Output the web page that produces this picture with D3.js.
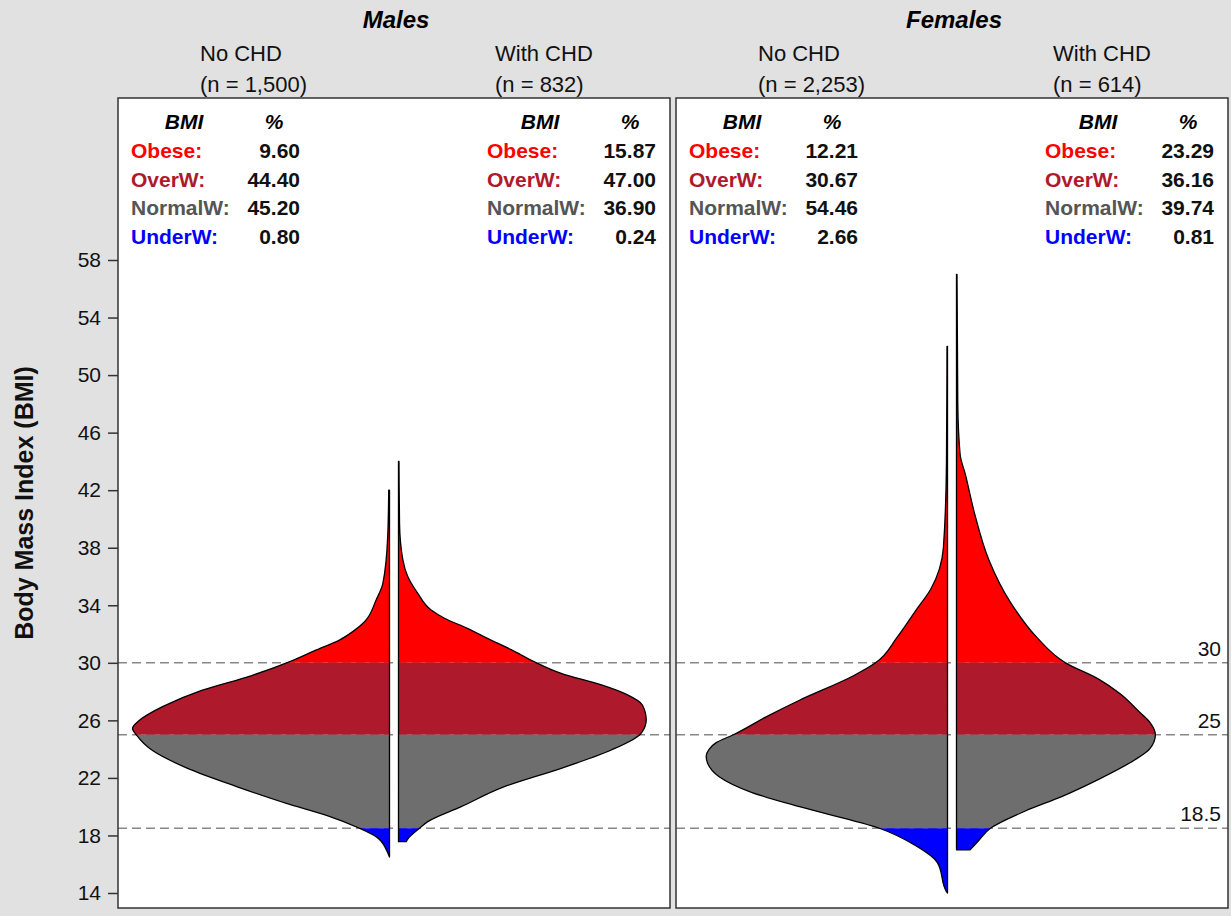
<!DOCTYPE html>
<html>
<head>
<meta charset="utf-8">
<script src="https://cdn.jsdelivr.net/npm/d3@7"></script>
<style>
  body { margin: 0; background: #e1e1e1; }
  text { font-family: Arial, "Liberation Sans", sans-serif; }
</style>
</head>
<body>
<svg width="1231" height="916"></svg>
<script>
// ---- data ----
var sexes = ["Males", "Females"];
var groups = ["No CHD", "With CHD"];
var counts = [[1500, 832], [2253, 614]];

var bandNames = ["Obese:", "OverW:", "NormalW:", "UnderW:"];
var bandCuts = [30, 25, 18.5];          // reference lines
var yTicks = [14, 18, 22, 26, 30, 34, 38, 42, 46, 50, 54, 58];

var maleNoPct  = [9.60, 44.40, 45.20, 0.80];
var maleYesPct = [15.87, 47.00, 36.90, 0.24];
var femNoPct   = [12.21, 30.67, 54.46, 2.66];
var femYesPct  = [23.29, 36.16, 39.74, 0.81];

// density (% per BMI unit) at BMI values
var maleNoBmi  = [16.5, 17.0, 17.9, 18.5, 19.4, 20.23, 21.4, 22.7, 23.9, 24.97, 25.44, 26.0, 26.95, 28.1, 29.1, 30.15, 30.9, 31.58, 32.17, 32.86, 34.37, 35.5, 38.77, 42.0];
var maleNoDens = [0, 0.12, 0.51, 1.17, 2.45, 4.01, 5.95, 7.90, 9.22, 9.84, 10.0, 9.73, 8.83, 7.28, 5.39, 3.78, 2.84, 1.95, 1.43, 0.97, 0.52, 0.26, 0.07, 0.03];

var maleYesBmi  = [17.57, 17.75, 18.5, 18.96, 20.0, 21.39, 22.67, 23.94, 25.1, 26.03, 27.07, 27.77, 28.46, 29.27, 30.07, 30.9, 31.7, 32.4, 33.1, 33.67, 34.83, 36.0, 37.15, 39.7, 44.0];
var maleYesDens = [0.30, 0.36, 0.82, 1.14, 2.44, 4.12, 6.33, 8.28, 9.44, 9.64, 9.49, 8.91, 7.90, 6.33, 5.29, 4.40, 3.46, 2.68, 1.79, 1.27, 0.75, 0.36, 0.17, 0.04, 0.02];

var femNoBmi  = [14.0, 14.1, 16.1, 17.3, 18.5, 20.0, 21.0, 22.1, 23.0, 23.5, 24.0, 24.45, 25.0, 26.3, 27.4, 29.1, 30.0, 31.8, 33.6, 35.1, 38.0, 44.0, 52.0];
var femNoDens = [0, 0.04, 0.39, 1.25, 2.65, 5.76, 7.63, 8.90, 9.33, 9.39, 9.27, 9.00, 8.33, 7.0, 5.76, 3.66, 2.80, 1.95, 1.25, 0.66, 0.16, 0.04, 0.02];

var femYesBmi  = [17.0, 17.6, 18.5, 19.7, 20.7, 21.9, 23.25, 24.0, 25.0, 25.9, 26.65, 27.83, 28.87, 30.0, 31.8, 34.2, 37.15, 40.4, 43.06, 44.5, 48.0, 57.0];
var femYesDens = [0.53, 0.84, 1.32, 2.68, 4.09, 5.53, 6.93, 7.51, 7.74, 7.51, 7.08, 6.38, 5.53, 4.24, 3.11, 2.10, 1.26, 0.70, 0.35, 0.14, 0.05, 0.02];

// ---- layout ----
var svg = d3.select("svg");
var panels = [{left: 118, right: 670}, {left: 676, right: 1228}];
var plotTop = 98, plotBottom = 908;
var gap = 4.5;

var fills = ["#ff0000", "#ae192c", "#6e6e6e", "#0000ff"];
var textCols = ["#ff0000", "#ae192c", "#555555", "#0000ff"];
var bandLims = [[30, 80], [25, 30], [18.5, 25], [0, 18.5]];

var y = d3.scaleLinear().domain([14, 58]).range([893, 260]);
var w = d3.scaleLinear().domain([0, 10]).range([0, 257]);
var fmt = d3.format(".2f"), nfmt = d3.format(",");

svg.append("rect").attr("width", 1231).attr("height", 916).attr("fill", "#e1e1e1");

var violins = [
  {p: 0, side: -1, bmi: maleNoBmi, dens: maleNoDens, pct: maleNoPct},
  {p: 0, side: 1, bmi: maleYesBmi, dens: maleYesDens, pct: maleYesPct},
  {p: 1, side: -1, bmi: femNoBmi, dens: femNoDens, pct: femNoPct},
  {p: 1, side: 1, bmi: femYesBmi, dens: femYesDens, pct: femYesPct}
];

var defs = svg.append("defs");

panels.forEach(function(pn, i) {
  svg.append("rect")
      .attr("x", pn.left).attr("y", plotTop)
      .attr("width", pn.right - pn.left).attr("height", plotBottom - plotTop)
      .attr("fill", "#fff");

  bandLims.forEach(function(b, j) {
    defs.append("clipPath").attr("id", "clip" + i + "_" + j)
      .append("rect")
        .attr("x", pn.left).attr("width", pn.right - pn.left)
        .attr("y", y(b[1])).attr("height", y(b[0]) - y(b[1]));
  });

  // dashed reference lines
  svg.selectAll(null).data(bandCuts).enter().append("line")
      .attr("x1", pn.left).attr("x2", pn.right)
      .attr("y1", function(d) { return y(d); })
      .attr("y2", function(d) { return y(d); })
      .attr("stroke", "#888").attr("stroke-width", 1.6)
      .attr("stroke-dasharray", "9,5");

  // titles
  var cx = (pn.left + pn.right) / 2;
  svg.append("text").attr("x", cx + 2).attr("y", 28)
      .attr("text-anchor", "middle")
      .style("font-size", "24px").style("font-weight", "bold").style("font-style", "italic")
      .text(sexes[i]);

  groups.forEach(function(g, k) {
    var gx = pn.left + (k === 0 ? 82 : 377);
    svg.append("text").attr("x", gx).attr("y", 61)
        .style("font-size", "22px").attr("fill", "#111").text(g);
    svg.append("text").attr("x", gx).attr("y", 92)
        .style("font-size", "22px").attr("fill", "#111")
        .text("(n = " + nfmt(counts[i][k]) + ")");
  });
});

// violins
violins.forEach(function(v) {
  var pn = panels[v.p];
  var cx = (pn.left + pn.right) / 2;
  var base = cx + v.side * gap;
  var pts = v.bmi.map(function(b, i) { return [b, v.dens[i]]; });

  var area = d3.area()
      .y(function(d) { return y(d[0]); })
      .x0(base)
      .x1(function(d) { return base + v.side * w(d[1]); })
      .curve(d3.curveMonotoneY);

  bandLims.forEach(function(b, j) {
    svg.append("path").datum(pts)
        .attr("d", area)
        .attr("fill", fills[j])
        .attr("clip-path", "url(#clip" + v.p + "_" + j + ")");
  });

  svg.append("path").datum(pts)
      .attr("d", area)
      .attr("fill", "none")
      .attr("stroke", "#000")
      .attr("stroke-width", 1.3)
      .attr("stroke-linejoin", "round");

  // inset table
  var x0 = pn.left + (v.side < 0 ? 13 : 369);
  svg.append("text").attr("x", x0 + 53).attr("y", 129)
      .attr("text-anchor", "middle")
      .style("font-size", "21px").style("font-weight", "bold").style("font-style", "italic")
      .text("BMI");
  svg.append("text").attr("x", x0 + 143).attr("y", 129)
      .attr("text-anchor", "middle")
      .style("font-size", "21px").style("font-weight", "bold").style("font-style", "italic")
      .text("%");
  bandNames.forEach(function(n, j) {
    var ty = 158 + j * 28.7;
    svg.append("text").attr("x", x0).attr("y", ty)
        .style("font-size", "21px").style("font-weight", "bold")
        .attr("fill", textCols[j]).text(n);
    svg.append("text").attr("x", x0 + 169).attr("y", ty)
        .attr("text-anchor", "end")
        .style("font-size", "21px").style("font-weight", "bold")
        .attr("fill", "#111").text(fmt(v.pct[j]));
  });
});

// panel borders
panels.forEach(function(pn) {
  svg.append("rect")
      .attr("x", pn.left).attr("y", plotTop)
      .attr("width", pn.right - pn.left).attr("height", plotBottom - plotTop)
      .attr("fill", "none").attr("stroke", "#333").attr("stroke-width", 1.5);
});

// reference labels
var pr = panels[1];
svg.selectAll(null).data(bandCuts).enter().append("text")
    .attr("x", pr.right - 7)
    .attr("y", function(d) { return y(d) - 7; })
    .attr("text-anchor", "end")
    .style("font-size", "21px").attr("fill", "#111")
    .text(function(d) { return d; });

// y axis
var ax = svg.append("g")
    .attr("transform", "translate(" + panels[0].left + ",0)")
    .call(d3.axisLeft(y).tickValues(yTicks).tickSize(10).tickPadding(7));
ax.select(".domain").remove();
ax.selectAll(".tick line").attr("stroke", "#333").attr("stroke-width", 1.5);
ax.selectAll(".tick text")
    .style("font-size", "21px").style("font-family", "Arial, 'Liberation Sans', sans-serif")
    .attr("fill", "#111");

svg.append("text")
    .attr("transform", "translate(33,503) rotate(-90)")
    .attr("text-anchor", "middle")
    .style("font-size", "25px").style("font-weight", "bold")
    .attr("fill", "#111")
    .text("Body Mass Index (BMI)");
</script>
</body>
</html>
